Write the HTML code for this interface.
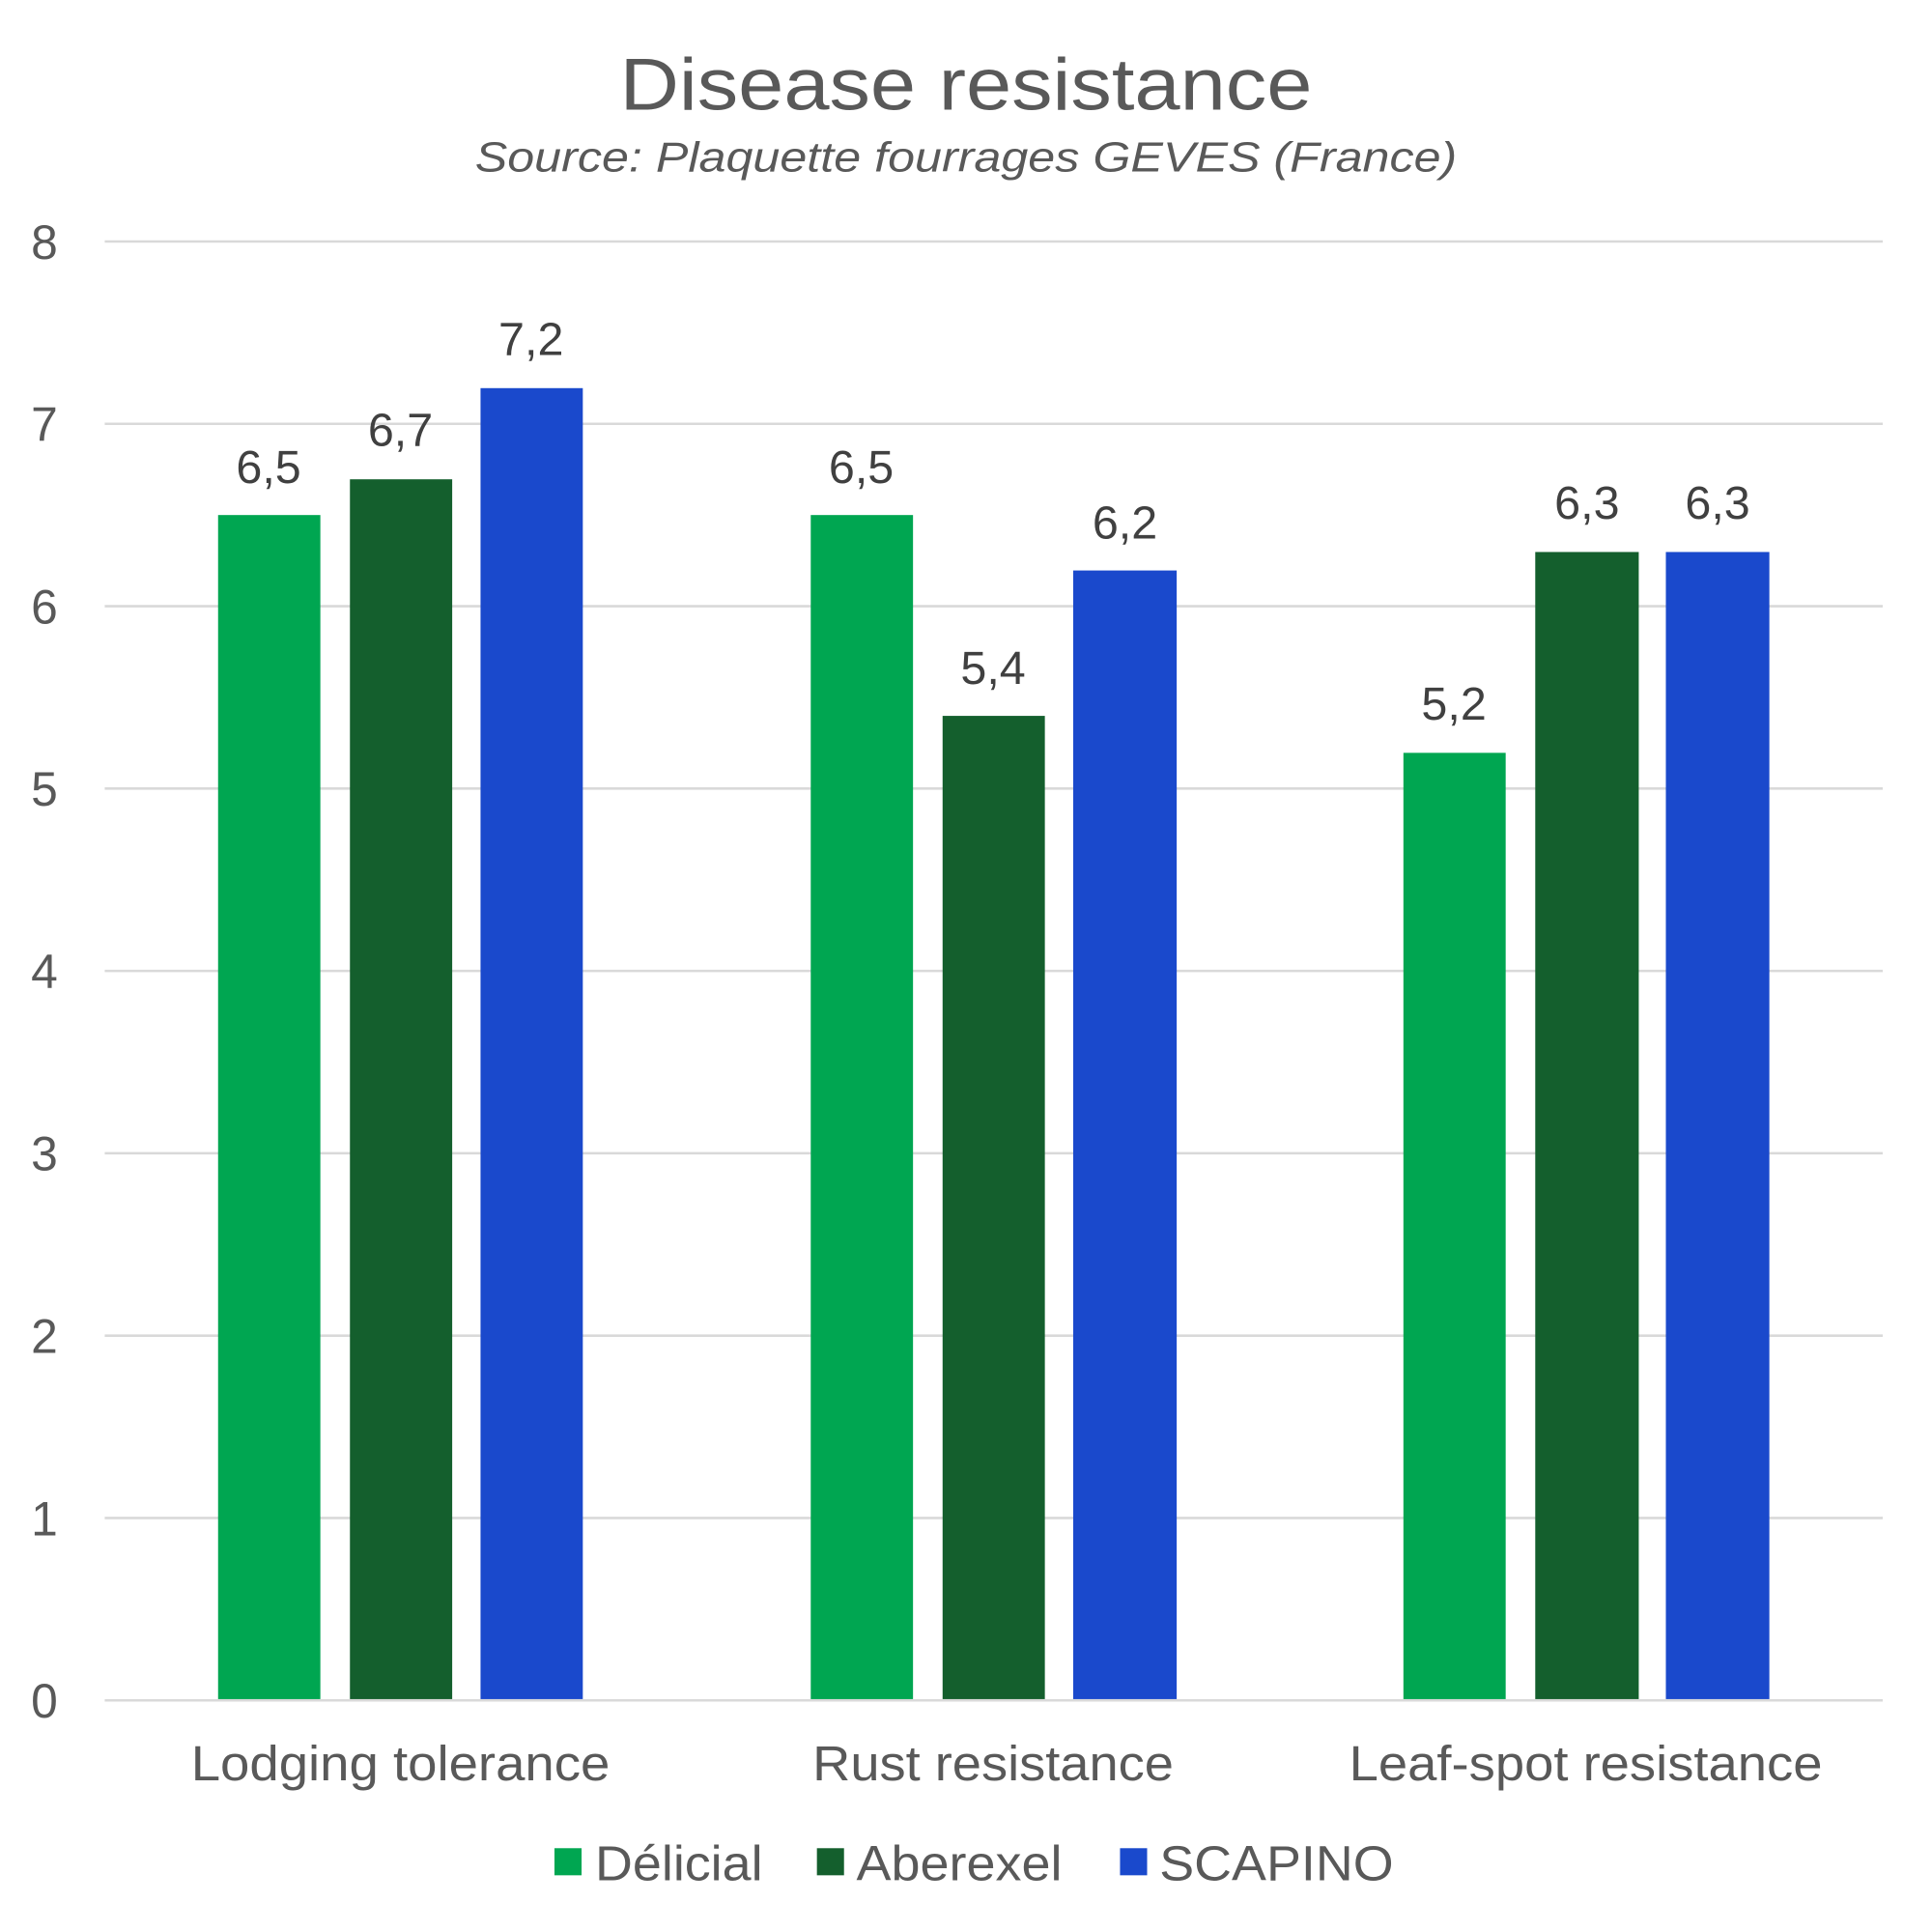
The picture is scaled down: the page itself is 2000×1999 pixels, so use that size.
<!DOCTYPE html>
<html><head><meta charset="utf-8"><style>html,body{margin:0;padding:0;background:#fff}svg{display:block}</style></head>
<body>
<svg width="2000" height="1999" viewBox="0 0 1568 1567.2" xmlns="http://www.w3.org/2000/svg" font-family="Liberation Sans, Arial, sans-serif">
<rect width="1568" height="1568" fill="#fff"/>
<text x="784" y="89" font-size="60" fill="#595959" text-anchor="middle" textLength="562" lengthAdjust="spacingAndGlyphs">Disease resistance</text>
<text x="784" y="139" font-size="34" font-style="italic" fill="#595959" text-anchor="middle" textLength="797" lengthAdjust="spacingAndGlyphs">Source: Plaquette fourrages GEVES (France)</text>
<g stroke="#d9d9d9" stroke-width="2">
<line x1="85" x2="1528" y1="196" y2="196"/><line x1="85" x2="1528" y1="344" y2="344"/>
<line x1="85" x2="1528" y1="492" y2="492"/><line x1="85" x2="1528" y1="640" y2="640"/>
<line x1="85" x2="1528" y1="788" y2="788"/><line x1="85" x2="1528" y1="936" y2="936"/>
<line x1="85" x2="1528" y1="1084" y2="1084"/><line x1="85" x2="1528" y1="1232" y2="1232"/>
<line x1="85" x2="1528" y1="1380" y2="1380"/>
</g>
<g font-size="39" fill="#595959" text-anchor="middle">
<text x="36" y="210">8</text><text x="36" y="358">7</text><text x="36" y="506">6</text>
<text x="36" y="654">5</text><text x="36" y="802">4</text><text x="36" y="950">3</text>
<text x="36" y="1098">2</text><text x="36" y="1246">1</text><text x="36" y="1394">0</text>
</g>
<g>
<rect x="177" y="418" width="83" height="961" fill="#00a651"/>
<rect x="284" y="389" width="83" height="990" fill="#145f2d"/>
<rect x="390" y="315" width="83" height="1064" fill="#1a49cc"/>
<rect x="658" y="418" width="83" height="961" fill="#00a651"/>
<rect x="765" y="581" width="83" height="798" fill="#145f2d"/>
<rect x="871" y="463" width="84" height="916" fill="#1a49cc"/>
<rect x="1139" y="611" width="83" height="768" fill="#00a651"/>
<rect x="1246" y="448" width="84" height="931" fill="#145f2d"/>
<rect x="1352" y="448" width="84" height="931" fill="#1a49cc"/>
</g>
<g font-size="38" fill="#404040" text-anchor="middle">
<text x="218" y="392">6,5</text><text x="325" y="362">6,7</text><text x="431" y="288">7,2</text>
<text x="699" y="392">6,5</text><text x="806" y="555">5,4</text><text x="913" y="437">6,2</text>
<text x="1180" y="584">5,2</text><text x="1288" y="421">6,3</text><text x="1394" y="421">6,3</text>
</g>
<g font-size="40" fill="#595959" text-anchor="middle">
<text x="325" y="1445" textLength="340" lengthAdjust="spacingAndGlyphs">Lodging tolerance</text>
<text x="806" y="1445" textLength="293" lengthAdjust="spacingAndGlyphs">Rust resistance</text>
<text x="1287" y="1445" textLength="384" lengthAdjust="spacingAndGlyphs">Leaf-spot resistance</text>
</g>
<g font-size="40" fill="#595959">
<rect x="450" y="1500" width="22" height="22" fill="#00a651"/>
<text x="483" y="1526" textLength="136" lengthAdjust="spacingAndGlyphs">Délicial</text>
<rect x="663" y="1500" width="22" height="22" fill="#145f2d"/>
<text x="695" y="1526" textLength="167" lengthAdjust="spacingAndGlyphs">Aberexel</text>
<rect x="909" y="1500" width="22" height="22" fill="#1a49cc"/>
<text x="941" y="1526" textLength="190" lengthAdjust="spacingAndGlyphs">SCAPINO</text>
</g>
</svg>
</body></html>
